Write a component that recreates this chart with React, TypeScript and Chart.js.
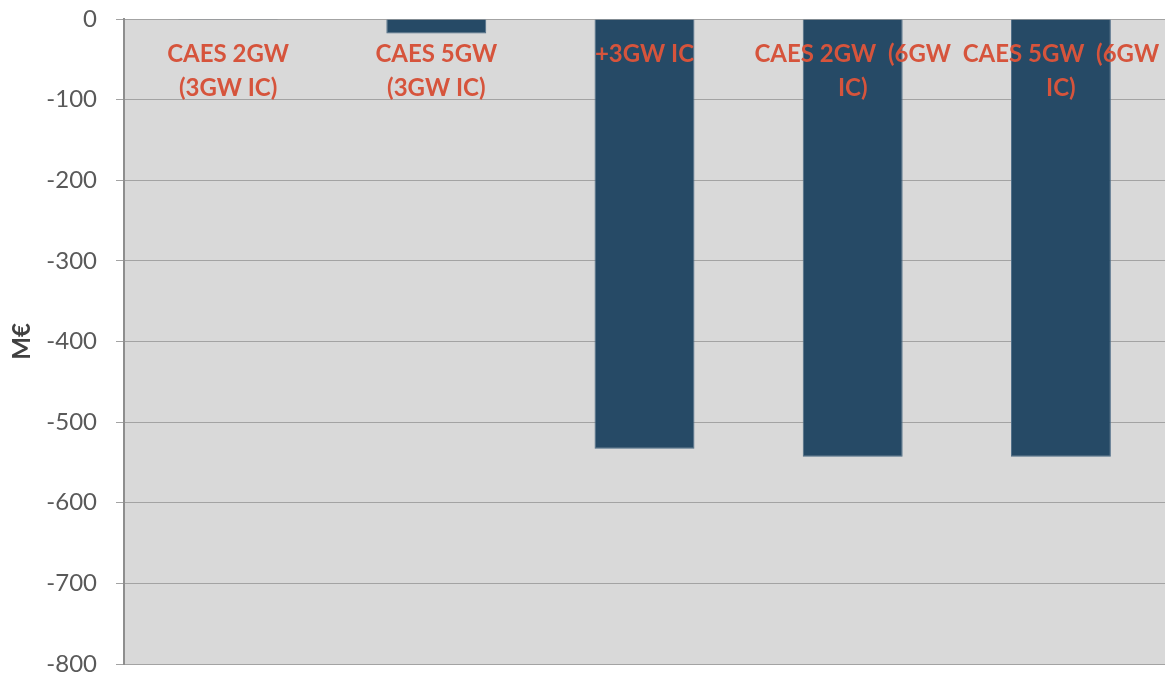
import React, { useEffect, useRef } from "react";
import { Chart, registerables } from "chart.js";

Chart.register(...registerables);

const categories: string[][] = [
  ["CAES 2GW", "(3GW IC)"],
  ["CAES 5GW", "(3GW IC)"],
  ["+3GW IC"],
  ["CAES 2GW  (6GW", "IC)"],
  ["CAES 5GW  (6GW", "IC)"],
];
const values: number[] = [-1, -18, -533, -543, -543];
const yMin = -800;
const yMax = 0;
const yStep = 100;
const yTitle = "M€";

const categoryLabelPlugin = {
  id: "categoryLabels",
  beforeDraw(chart: any) {
    const { ctx, chartArea } = chart;
    ctx.save();
    ctx.fillStyle = "#d9d9d9";
    ctx.fillRect(chartArea.left, chartArea.top, chartArea.right - chartArea.left, chartArea.bottom - chartArea.top);
    ctx.restore();
  },
  afterDatasetsDraw(chart: any) {
    const { ctx, chartArea } = chart;
    const xScale = chart.scales.x;
    ctx.save();
    ctx.font = "bold 24px Lato";
    ctx.fillStyle = "#d6543c";
    ctx.textAlign = "center";
    ctx.textBaseline = "alphabetic";
    categories.forEach((lines, i) => {
      const x = xScale.getPixelForValue(i);
      lines.forEach((line, j) => {
        ctx.fillText(line, x, chartArea.top + 43 + j * 34);
      });
    });
    ctx.restore();
  },
};

export default function App() {
  const canvasRef = useRef<HTMLCanvasElement | null>(null);

  useEffect(() => {
    if (!canvasRef.current) return;
    const chart = new Chart(canvasRef.current, {
      type: "bar",
      data: {
        labels: categories.map((l) => l.join(" ")),
        datasets: [
          {
            data: values,
            backgroundColor: "#264a66",
            borderColor: "#4d6c86",
            borderWidth: 1,
            barPercentage: 0.48,
            categoryPercentage: 1,
          },
        ],
      },
      options: {
        animation: false,
        responsive: true,
        maintainAspectRatio: false,
        layout: { padding: { top: 19, bottom: 13, right: 3, left: 0 } },
        plugins: {
          legend: { display: false },
          tooltip: { enabled: false },
        },
        scales: {
          x: { display: false },
          y: {
            min: yMin,
            max: yMax,
            afterFit: (scale: any) => {
              scale.width = 124;
              scale.paddingTop = 0;
              scale.paddingBottom = 0;
            },
            ticks: {
              stepSize: yStep,
              padding: 19,
              color: "#595959",
              font: { family: "Lato", size: 24, lineHeight: 1 },
            },
            grid: {
              color: "#a3a3a3",
              lineWidth: 1,
              drawTicks: true,
              tickLength: 8,
              tickColor: "#a3a3a3",
            },
            border: { display: true, color: "#8e8e8e", width: 2 },
            title: {
              display: true,
              text: yTitle,
              color: "#404040",
              font: { family: "Lato", size: 24, weight: "bold" },
              padding: { top: 8, bottom: 0 },
            },
          },
        },
      },
      plugins: [categoryLabelPlugin],
    });
    return () => chart.destroy();
  }, []);

  return (
    <div style={{ position: "fixed", left: 0, top: 0, width: 1168, height: 677, background: "#ffffff" }}>
      <canvas ref={canvasRef} />
    </div>
  );
}
